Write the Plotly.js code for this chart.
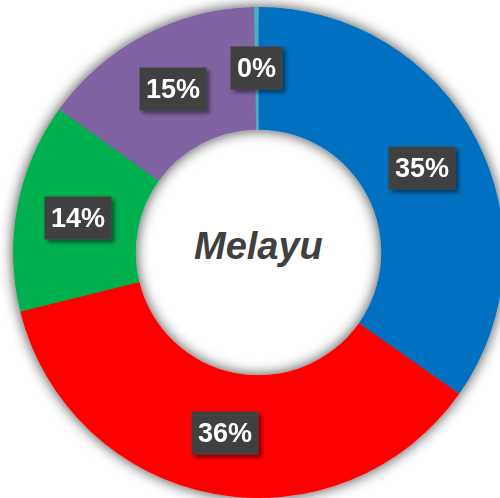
<!DOCTYPE html>
<html><head><meta charset="utf-8">
<script src="https://cdn.plot.ly/plotly-3.0.1.min.js"></script>
<style>
html,body{margin:0;padding:0;background:#fff;overflow:hidden;width:500px;height:498px;}
#chart{width:530px;height:498px;}
</style>
</head><body>
<div id="chart"></div>
<script>
const categories = ["Kategori A","Kategori B","Kategori C","Kategori D","Kategori E"];
const values = [34.8, 36.4, 13.8, 14.8, 0.3];
const labelsText = ["35%","36%","14%","15%","0%"];
const colors = ["#0070C0","#FF0000","#00B050","#8064A2","#4BACC6"];
const centerTitle = "Melayu";

const W = 530, H = 498;
const dom = {x:[0.0245,0.951], y:[0,0.986]};
const hole = 0.5;

const total = values.reduce((a,b)=>a+b,0);
const cx = (dom.x[0]+dom.x[1])/2*W, cy = (1-(dom.y[0]+dom.y[1])/2)*H;
const R = Math.min((dom.x[1]-dom.x[0])*W,(dom.y[1]-dom.y[0])*H)/2;
const rm = R*(1+hole)/2;
let cum = 0;
const anns = values.map((v,i)=>{
  const th = (cum + v/2)/total*2*Math.PI; cum += v;
  const px = cx + rm*Math.sin(th), py = cy - rm*Math.cos(th);
  return {x:px/W, y:1-py/H, xref:'paper', yref:'paper', text:'<b>'+labelsText[i]+'</b>', showarrow:false,
    font:{family:'Liberation Sans, Arial, sans-serif', size:27, color:'#ffffff'},
    bgcolor:'#404040', borderpad:6, xanchor:'center', yanchor:'middle'};
});
anns.push({x:cx/W, y:1-(cy-6)/H, xref:'paper', yref:'paper', text:'<b><i>'+centerTitle+'</i></b>', showarrow:false,
  font:{family:'Liberation Sans, Arial, sans-serif', size:38, color:'#404040'}, xanchor:'center', yanchor:'middle'});

Plotly.newPlot('chart',[{
  type:'pie', labels:categories, values:values, hole:hole, sort:false, direction:'clockwise',
  rotation:0, marker:{colors:colors, line:{width:0}}, textinfo:'none', hoverinfo:'none',
  domain:dom, showlegend:false
}],{
  width:W, height:H, margin:{l:0,r:0,t:0,b:0}, paper_bgcolor:'rgba(0,0,0,0)', annotations:anns
},{displayModeBar:false, staticPlot:true}).then(gd=>{
  const NS='http://www.w3.org/2000/svg';
  const svg = gd.querySelector('svg.main-svg');
  let defs = svg.querySelector('defs');
  if(!defs){defs=document.createElementNS(NS,'defs'); svg.insertBefore(defs, svg.firstChild);}
  defs.insertAdjacentHTML('beforeend',
    '<filter id="ringShadow" filterUnits="userSpaceOnUse" x="-50" y="-50" width="640" height="600">'+
    '<feGaussianBlur in="SourceAlpha" stdDeviation="7"/>'+
    '<feComponentTransfer><feFuncA type="linear" slope="0.75"/></feComponentTransfer>'+
    '<feMerge><feMergeNode/><feMergeNode in="SourceGraphic"/></feMerge></filter>'+
    '<filter id="boxShadow" x="-20%" y="-20%" width="150%" height="160%">'+
    '<feGaussianBlur in="SourceAlpha" stdDeviation="2"/><feOffset dx="3" dy="3"/>'+
    '<feComponentTransfer><feFuncA type="linear" slope="0.5"/></feComponentTransfer>'+
    '<feMerge><feMergeNode/><feMergeNode in="SourceGraphic"/></feMerge></filter>');
  gd.querySelectorAll('.pielayer .trace').forEach(t=>t.setAttribute('filter','url(#ringShadow)'));
  gd.querySelectorAll('.annotation').forEach((a,i)=>{ if(i<values.length) a.setAttribute('filter','url(#boxShadow)'); });
});
</script>
</body></html>
